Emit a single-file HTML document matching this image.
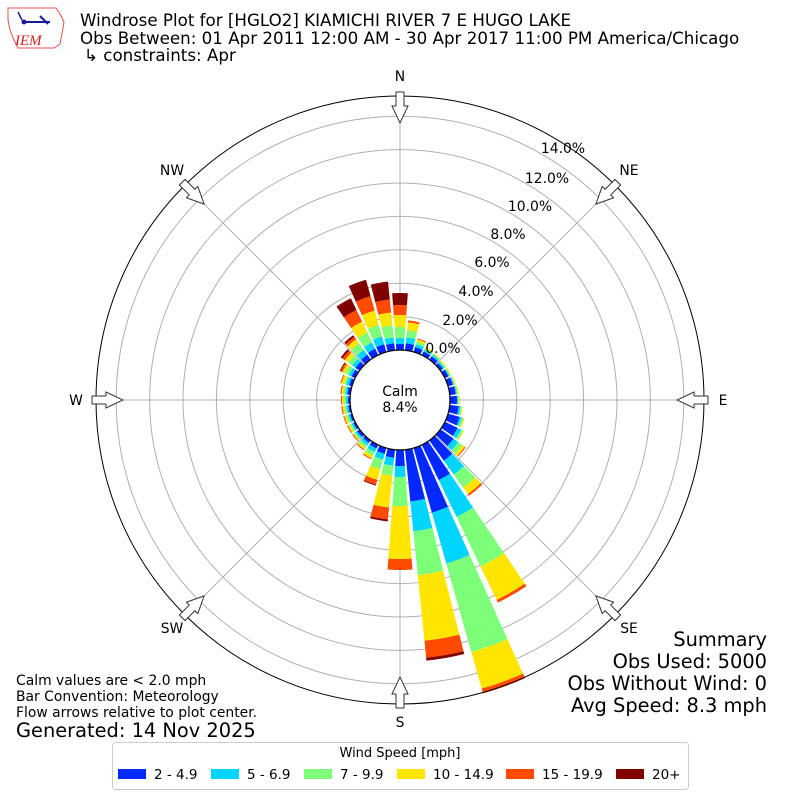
<!DOCTYPE html>
<html><head><meta charset="utf-8"><style>
html,body{margin:0;padding:0;background:#fff;}
svg{display:block;font-family:"DejaVu Sans","Liberation Sans",sans-serif;}
</style></head><body>
<svg id="s" width="800" height="800" viewBox="0 0 800 800" xmlns="http://www.w3.org/2000/svg">
<rect width="800" height="800" fill="#fff"/>
<!-- logo -->
<path d="M8,8 L56,8 L60,14 L64,22 L62,34 L60,44 L54,48 L18,48 L14,40 L10,30 L8,20 Z" fill="#fff" stroke="#e05050" stroke-width="1"/>
<line x1="22" y1="22" x2="50" y2="22" stroke="#1a1aa0" stroke-width="2"/>
<line x1="40" y1="16" x2="48" y2="24" stroke="#1a1aa0" stroke-width="2"/>
<line x1="18" y1="12" x2="22" y2="20" stroke="#1a1aa0" stroke-width="1.5"/>
<circle cx="24" cy="22" r="2.5" fill="#1a1aa0"/>
<text x="15" y="45" font-family="Liberation Serif,serif" font-style="italic" font-size="15" fill="#d02020">IEM</text>
<text x="80" y="26" font-size="16.7">Windrose Plot for [HGLO2] KIAMICHI RIVER 7 E HUGO LAKE</text>
<text x="80" y="44" font-size="16.7">Obs Between: 01 Apr 2011 12:00 AM - 30 Apr 2017 11:00 PM America/Chicago</text>
<text x="84" y="61" font-size="16.7">↳ constraints: Apr</text>
<g id="grid" fill="none" stroke="#b0b0b0" stroke-width="1"></g>
<g id="bars"></g>
<circle cx="400" cy="400" r="304" fill="none" stroke="#000" stroke-width="1"/>
<circle cx="400" cy="400" r="50" fill="#fff" stroke="#000" stroke-width="1.2"/>
<text x="400" y="396" font-size="13.9" text-anchor="middle">Calm</text>
<text x="400" y="412" font-size="13.9" text-anchor="middle">8.4%</text>
<g font-size="13.9" text-anchor="middle">
<text x="443" y="353">0.0%</text><text x="460" y="325">2.0%</text><text x="476" y="296">4.0%</text>
<text x="492" y="267">6.0%</text><text x="508" y="239">8.0%</text><text x="530" y="211">10.0%</text>
<text x="547" y="183">12.0%</text><text x="563" y="153">14.0%</text>
<text x="400" y="81">N</text><text x="629" y="175">NE</text><text x="723" y="405">E</text>
<text x="629" y="633">SE</text><text x="400" y="727">S</text><text x="172" y="633">SW</text>
<text x="76" y="405">W</text><text x="172" y="175">NW</text>
</g>
<g id="arrows" fill="#fff" stroke="#333" stroke-width="1"></g>
<g font-size="13.9">
<text x="16" y="685">Calm values are &lt; 2.0 mph</text>
<text x="16" y="701">Bar Convention: Meteorology</text>
<text x="16" y="717">Flow arrows relative to plot center.</text>
</g>
<text x="16" y="737" font-size="19.4">Generated: 14 Nov 2025</text>
<g font-size="19.4" text-anchor="end">
<text x="767" y="646">Summary</text><text x="767" y="668">Obs Used: 5000</text>
<text x="767" y="690">Obs Without Wind: 0</text><text x="767" y="712">Avg Speed: 8.3 mph</text>
</g>
<rect x="112.5" y="742.5" width="576" height="47" rx="3" fill="#fff" stroke="#ccc"/>
<text x="400" y="757" font-size="13" text-anchor="middle">Wind Speed [mph]</text>
<g font-size="13.5">
<rect x="118" y="769" width="28" height="10" fill="#0028ff"/><text x="154" y="779">2 - 4.9</text>
<rect x="211" y="769" width="28" height="10" fill="#00d5ff"/><text x="247" y="779">5 - 6.9</text>
<rect x="304" y="769" width="28" height="10" fill="#7dff7a"/><text x="340" y="779">7 - 9.9</text>
<rect x="397" y="769" width="28" height="10" fill="#ffe500"/><text x="433" y="779">10 - 14.9</text>
<rect x="506" y="769" width="28" height="10" fill="#ff4a00"/><text x="542" y="779">15 - 19.9</text>
<rect x="616" y="769" width="28" height="10" fill="#800000"/><text x="652" y="779">20+</text>
</g>
<script>
(function(){
var NS="http://www.w3.org/2000/svg",cx=400,cy=400;
var g=document.getElementById('grid');
for(var k=1;k<=7;k++){var c=document.createElementNS(NS,'circle');c.setAttribute('cx',cx);c.setAttribute('cy',cy);c.setAttribute('r',50+33.4*k);g.appendChild(c);}
for(var a=0;a<360;a+=45){var t=a*Math.PI/180,l=document.createElementNS(NS,'line');
l.setAttribute('x1',cx+50*Math.sin(t));l.setAttribute('y1',cy-50*Math.cos(t));
l.setAttribute('x2',cx+304*Math.sin(t));l.setAttribute('y2',cy-304*Math.cos(t));g.appendChild(l);}
var cols=["#0028ff","#00d5ff","#7dff7a","#ffe500","#ff4a00","#800000"];
var D={0:[56,62,73,85,95,107],10:[57,63,70,78,80,80],20:[55,58,61,63,64,64],30:[54,56,58,59,59,59],
40:[54,56,57,58,58,58],50:[53,55,56,57,57,57],60:[54,55,56,57,57,57],70:[55,56,57,58,58,58],
80:[56,57,58,59,59,59],90:[57,58,59,60,60,60],100:[59,61,62,63,63,63],110:[62,64,66,67,67,67],
120:[64,68,70,71,71,71],130:[66,72,77,80,81,81],140:[75,92,108,116,118,118],150:[89,130,185,222,225,225],
160:[117,170,262,300,305,305],170:[102,132,176,242,259,262],180:[66,77,106,159,170,170],
190:[58,66,76,108,120,122],200:[56,62,72,83,88,89],210:[54,58,62,65,66,66],220:[53,56,59,61,62,62],
230:[53,55,57,58,59,59],240:[52,54,56,58,59,59],250:[52,54,56,58,59,59],260:[52,54,56,58,59,59],
270:[52,54,56,58,59,59],280:[53,55,57,59,60,60],290:[53,56,58,61,62,62],300:[54,57,61,64,66,67],
310:[55,59,64,68,71,73],320:[56,62,70,75,78,80],330:[57,64,75,87,100,113],340:[58,66,78,93,108,125],350:[57,63,75,88,101,119]};
var b=document.getElementById('bars'),hw=4.2*Math.PI/180;
function P(r,t){return (cx+r*Math.sin(t)).toFixed(2)+","+(cy-r*Math.cos(t)).toFixed(2);}
for(var d in D){var t=d*Math.PI/180,v=D[d],r0=50;
for(var i=0;i<6;i++){var r1=v[i];if(r1>r0+0.2){
var p=document.createElementNS(NS,'path');
p.setAttribute('d',"M"+P(r0,t-hw)+" L"+P(r1,t-hw)+" A"+r1+","+r1+" 0 0 1 "+P(r1,t+hw)+" L"+P(r0,t+hw)+" A"+r0+","+r0+" 0 0 0 "+P(r0,t-hw)+"Z");
p.setAttribute('fill',cols[i]);b.appendChild(p);}
if(r1>r0)r0=r1;}}
var ar=document.getElementById('arrows');
for(var a=0;a<360;a+=45){var p=document.createElementNS(NS,'path');
p.setAttribute('d',"M-4,-308 L4,-308 L4,-294 L8,-294 L0,-277 L-8,-294 L-4,-294 Z");
p.setAttribute('transform',"translate(400,400) rotate("+a+")");ar.appendChild(p);}
})();
</script>
</svg>
</body></html>
